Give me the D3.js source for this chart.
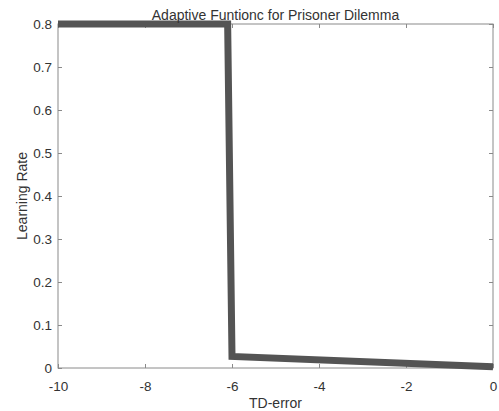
<!DOCTYPE html>
<html><head><meta charset="utf-8">
<script src="https://cdn.jsdelivr.net/npm/d3@7"></script>
<style>body{margin:0;background:#fff;}svg{display:block;}</style>
</head><body><div id="chart"></div>
<script>
const xValues = [-10, -6.1, -6, 0];
const yValues = [0.8, 0.8, 0.027, 0.003];
const xTicks = [-10, -8, -6, -4, -2, 0];
const yTicks = [0, 0.1, 0.2, 0.3, 0.4, 0.5, 0.6, 0.7, 0.8];
const title = "Adaptive Funtionc for Prisoner Dilemma";
const xLabel = "TD-error";
const yLabel = "Learning Rate";

const W = 499, H = 411;
const m = {left: 58, right: 6, top: 24, bottom: 43};
const svg = d3.select("#chart").append("svg").attr("width", W).attr("height", H)
  .style("font-family", "'Liberation Sans', Arial, sans-serif");
const x = d3.scaleLinear().domain([-10, 0]).range([m.left, W - m.right]);
const y = d3.scaleLinear().domain([0, 0.8]).range([H - m.bottom, m.top]);

const axisColor = "#8a8a8a", textColor = "#333";
function style(g){
  g.select(".domain").remove();
  g.selectAll(".tick line").attr("stroke", axisColor);
  g.selectAll(".tick text").attr("fill", textColor).style("font-size", "13.5px");
}
svg.append("g").attr("transform", `translate(0,${y(0)})`)
  .call(d3.axisBottom(x).tickValues(xTicks).tickSize(-4).tickPadding(13).tickFormat(d => String(d)))
  .call(style);
svg.append("g").attr("transform", `translate(${x(-10)},0)`)
  .call(d3.axisLeft(y).tickValues(yTicks).tickSize(-4).tickPadding(6).tickFormat(d => d === 0 ? "0" : d3.format(".1f")(d)))
  .call(style);
svg.append("g").attr("transform", `translate(0,${y(0.8)})`)
  .call(d3.axisTop(x).tickValues(xTicks).tickSize(-4).tickFormat(""))
  .call(style);
svg.append("g").attr("transform", `translate(${x(0)},0)`)
  .call(d3.axisRight(y).tickValues(yTicks).tickSize(-4).tickFormat(""))
  .call(style);
svg.append("rect").attr("x", x(-10)).attr("y", y(0.8))
  .attr("width", x(0) - x(-10)).attr("height", y(0) - y(0.8))
  .attr("fill", "none").attr("stroke", axisColor).attr("stroke-width", 1);

const pts = xValues.map((v, i) => [v, yValues[i]]);
svg.append("path").datum(pts)
  .attr("d", d3.line().x(d => x(d[0])).y(d => y(d[1])))
  .attr("fill", "none").attr("stroke", "#545454").attr("stroke-width", 7)
  .attr("stroke-linejoin", "miter");

svg.append("text").attr("x", (x(-10) + x(0)) / 2).attr("y", 20)
  .attr("text-anchor", "middle").attr("fill", textColor).style("font-size", "14px").text(title);
svg.append("text").attr("x", (x(-10) + x(0)) / 2).attr("y", 408)
  .attr("text-anchor", "middle").attr("fill", textColor).style("font-size", "14px").text(xLabel);
svg.append("text").attr("transform", `translate(27,${(y(0) + y(0.8)) / 2}) rotate(-90)`)
  .attr("text-anchor", "middle").attr("fill", textColor).style("font-size", "14px").text(yLabel);
</script></body></html>
